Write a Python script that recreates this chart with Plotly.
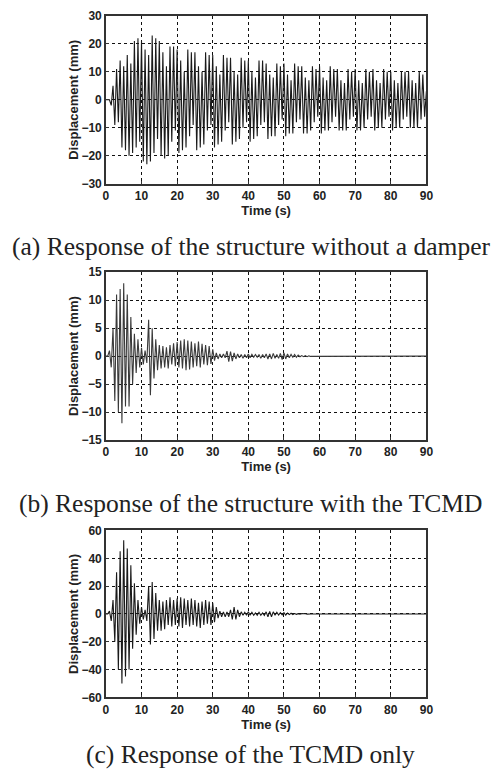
import plotly.graph_objects as go

# ---- data: successive peak / trough magnitudes (mm),
# one reading every half second; sign alternates peak (+) / trough (-)
time_step = 0.5
end_time = 90

disp_no_damper = [
    0, 0, 0, 2, 5, 9, 11, 8, 14, 17, 12, 18, 16, 20, 13, 19, 21, 17, 22, 15,
    21, 22, 18, 23, 16, 22, 23, 19, 22, 14, 21, 20, 17, 21, 12, 20, 19, 15, 19, 11,
    18, 19, 14, 18, 10, 17, 18, 13, 17, 9, 17, 18, 12, 17, 10, 16, 17, 11, 16, 9,
    16, 17, 12, 16, 9, 15, 16, 11, 15, 8, 15, 16, 10, 15, 9, 14, 15, 10, 14, 8,
    14, 15, 10, 14, 8, 13, 14, 9, 14, 8, 13, 14, 9, 13, 8, 13, 13, 9, 12, 7,
    13, 13, 9, 12, 7, 12, 13, 8, 12, 7, 12, 12, 8, 12, 7, 11, 12, 8, 11, 6,
    12, 12, 8, 11, 7, 11, 12, 8, 11, 6, 11, 11, 7, 11, 6, 11, 11, 7, 10, 6,
    11, 11, 7, 11, 6, 10, 11, 7, 10, 6, 11, 11, 7, 10, 6, 10, 11, 7, 10, 6,
    10, 11, 7, 10, 6, 10, 10, 7, 10, 6, 10, 10, 7, 10, 6, 10, 10, 7, 9, 6,
    3,
]

disp_with_tcmd = [
    0, 0, 1, 2, 5, 8, 11, 10, 12, 12, 13, 9, 11, 9, 7, 5, 4, 3, 3, 2,
    1.5, 1.5, 1, 1.2, 6.5, 7, 5, 4, 3, 2.5, 2, 2.2, 1.8, 2, 1.6, 2.2, 2, 1.5, 2.3, 1.8,
    2.5, 2, 2.8, 2.2, 3, 2.5, 2.8, 2.4, 2.6, 2, 2.3, 1.8, 2.6, 2, 2.2, 1.5, 2, 1.6, 1.8, 1.4,
    1.2, 0.8, 0.6, 0.5, 0.4, 0.3, 0.4, 0.3, 0.9, 1, 0.8, 0.9, 0.6, 0.5, 0.4, 0.3, 0.3, 0.4, 0.3, 0.3,
    0.4, 0.3, 0.3, 0.2, 0.3, 0.2, 0.3, 0.4, 0.3, 0.3, 0.4, 0.5, 0.4, 0.5, 0.5, 0.4, 0.3, 0.4, 0.5, 0.6,
    0.6, 0.5, 0.4, 0.3, 0.3, 0.2, 0.3, 0.2, 0.2, 0.1, 0.1, 0.1, 0.1, 0.1, 0.05, 0.05,
]

disp_tcmd = [
    0, 0, 2, 5, 10, 20, 30, 40, 45, 50, 53, 45, 47, 40, 35, 25, 22, 15, 10, 7,
    5, 4, 3, 5, 20, 22, 23, 18, 15, 12, 10, 12, 9, 11, 10, 8, 12, 9, 10, 8,
    11, 9, 12, 10, 11, 8, 10, 9, 11, 8, 10, 9, 8, 10, 9, 8, 10, 7, 9, 8,
    8, 6, 5, 3, 2, 2, 1.5, 2, 1.5, 2, 3, 4, 5, 4, 3, 2, 1.5, 1, 1.2, 1,
    1.5, 1, 1.2, 1, 0.8, 1, 1.2, 1, 0.8, 1, 1.5, 2, 1.8, 2, 1.5, 1, 1.2, 0.8, 1, 0.6,
    1, 0.8, 0.6, 0.5, 0.5, 0.4, 0.3, 0.3, 0.2, 0.2, 0.2, 0.1, 0.1, 0.1, 0.05, 0.05,
]

x_ticks = [0, 10, 20, 30, 40, 50, 60, 70, 80, 90]
y_ticks_a = [-30, -20, -10, 0, 10, 20, 30]
y_ticks_b = [-15, -10, -5, 0, 5, 10, 15]
y_ticks_c = [-60, -40, -20, 0, 20, 40, 60]

captions = [
    "(a) Response of the structure without a damper",
    "(b) Response of the structure with the TCMD",
    "(c) Response of the TCMD only",
]
x_title = "Time (s)"
y_title = "Displacement (mm)"


def series(mags):
    t = [i * time_step for i in range(len(mags))]
    v = [m if i % 2 == 0 else -m for i, m in enumerate(mags)]
    if t[-1] < end_time:
        t.append(end_time)
        v.append(0)
    return t, v


W, H = 501, 783
x_dom = [105 / W, 432 / W]
panels = [  # (top px, bottom px)
    (9, 180),
    (270, 441),
    (533, 703),
]
caption_y = [244, 506, 761]

fig = go.Figure()
for k, (mags, col) in enumerate([(disp_no_damper, "#1a1a1a"),
                                 (disp_with_tcmd, "#3a3a3a"),
                                 (disp_tcmd, "#1a1a1a")]):
    t, v = series(mags)
    sfx = "" if k == 0 else str(k + 1)
    fig.add_trace(go.Scatter(x=t, y=v, mode="lines", line=dict(color=col, width=1.1),
                             xaxis="x" + sfx, yaxis="y" + sfx, showlegend=False,
                             hoverinfo="skip"))

tick_font = dict(family="Liberation Sans, Arial, sans-serif", size=12, color="#222", weight="bold")
title_font = dict(family="Liberation Sans, Arial, sans-serif", size=13, color="#222", weight="bold")

layout = dict(
    width=W, height=H, margin=dict(l=0, r=0, t=0, b=0),
    paper_bgcolor="white", plot_bgcolor="white", showlegend=False,
)
yranges = [(-30, 30, y_ticks_a), (-15, 15, y_ticks_b), (-60, 60, y_ticks_c)]
for k, (top, bot) in enumerate(panels):
    sfx = "" if k == 0 else str(k + 1)
    ydom = [1 - bot / H, 1 - top / H]
    common = dict(showline=True, mirror=True, linecolor="#333", linewidth=1.5,
                  showgrid=True, gridcolor="#111", gridwidth=1, griddash="3px,3px",
                  zeroline=False, ticks="inside", ticklen=3, tickcolor="#333",
                  tickfont=tick_font)
    layout["xaxis" + sfx] = dict(common, domain=x_dom, range=[0, 90], tickvals=x_ticks,
                                 anchor="y" + sfx,
                                 title=dict(text=x_title, font=title_font, standoff=0))
    lo, hi, yt = yranges[k]
    layout["yaxis" + sfx] = dict(common, domain=ydom, range=[lo, hi], tickvals=yt,
                                 anchor="x" + sfx,
                                 title=dict(text=y_title, font=title_font, standoff=0))

fig.update_layout(**layout)
for k, cap in enumerate(captions):
    fig.add_annotation(text=cap, xref="paper", yref="paper", x=253 / W, y=1 - caption_y[k] / H,
                       xanchor="center", yanchor="middle", showarrow=False,
                       font=dict(family="Liberation Serif, Times New Roman, serif", size=25.5, color="#222"))

fig.write_html("out.html")
